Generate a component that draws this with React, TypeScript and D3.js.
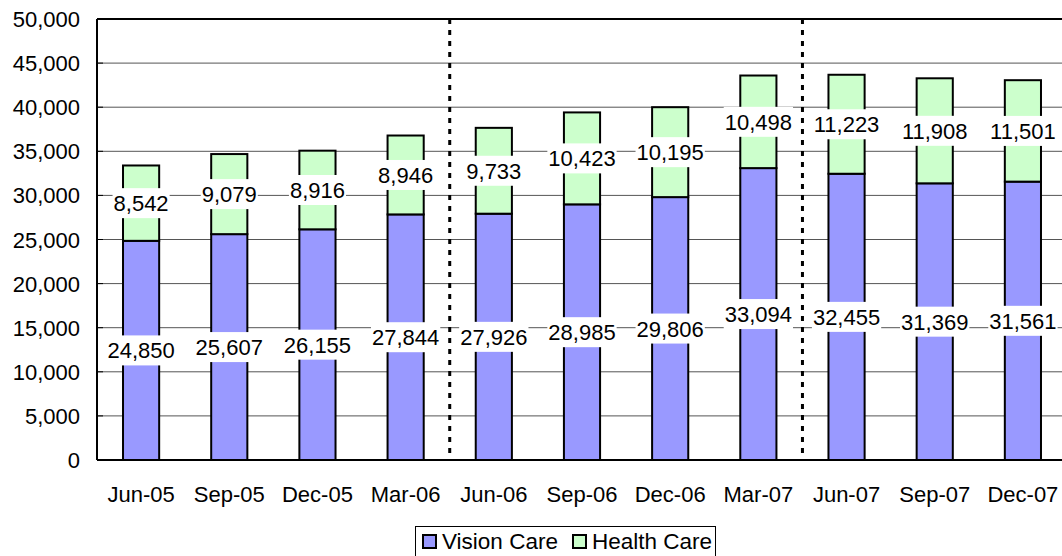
import React, { useEffect, useRef } from "react";
import * as d3 from "d3";

const categories = ["Jun-05", "Sep-05", "Dec-05", "Mar-06", "Jun-06", "Sep-06", "Dec-06", "Mar-07", "Jun-07", "Sep-07", "Dec-07"];
const visionCare = [24850, 25607, 26155, 27844, 27926, 28985, 29806, 33094, 32455, 31369, 31561];
const healthCare = [8542, 9079, 8916, 8946, 9733, 10423, 10195, 10498, 11223, 11908, 11501];
const yTicks = [0, 5000, 10000, 15000, 20000, 25000, 30000, 35000, 40000, 45000, 50000];
const dividerAfter = ["Mar-06", "Mar-07"];
const seriesNames = ["Vision Care", "Health Care"];
const seriesColors = ["#9999FF", "#CCFFCC"];

const W = 1062, H = 556;
const L = 97, T = 19, B = 460, R = 1067;
const FONT = "Arial, 'Liberation Sans', sans-serif";

export default function App() {
  const ref = useRef<SVGSVGElement>(null);
  useEffect(() => {
    const svg = d3.select(ref.current);
    svg.selectAll("*").remove();
    const x = d3.scaleBand<string>().domain(categories).range([L, R]).paddingInner(0.59).paddingOuter(0.295);
    const y = d3.scaleLinear().domain([0, 50000]).range([B, T]);

    svg.append("rect").attr("width", W).attr("height", H).attr("fill", "#fff");

    // gridlines
    svg.append("g").selectAll("line").data(yTicks.filter(t => t > 0 && t < 50000)).join("line")
      .attr("x1", L).attr("x2", R).attr("y1", d => y(d)).attr("y2", d => y(d))
      .attr("stroke", "#555").attr("stroke-width", 1);

    // top border
    svg.append("line").attr("x1", L).attr("x2", R).attr("y1", T).attr("y2", T).attr("stroke", "#000").attr("stroke-width", 2);

    // y tick marks (inward)
    svg.append("g").selectAll("line").data(yTicks).join("line")
      .attr("x1", L).attr("x2", L + 6).attr("y1", d => y(d)).attr("y2", d => y(d)).attr("stroke", "#000").attr("stroke-width", 1);

    const fmt = d3.format(",");
    svg.append("g").selectAll("text").data(yTicks).join("text")
      .attr("x", 80).attr("y", d => y(d) + 8).attr("text-anchor", "end")
      .attr("font-family", FONT).attr("font-size", 22).attr("fill", "#000")
      .text(d => fmt(d));

    // bars
    const bw = x.bandwidth();
    const g = svg.append("g");
    categories.forEach((c, i) => {
      const v = visionCare[i], h = healthCare[i];
      g.append("rect").attr("x", x(c)!).attr("y", y(v)).attr("width", bw).attr("height", y(0) - y(v))
        .attr("fill", seriesColors[0]).attr("stroke", "#000").attr("stroke-width", 2);
      g.append("rect").attr("x", x(c)!).attr("y", y(v + h)).attr("width", bw).attr("height", y(v) - y(v + h))
        .attr("fill", seriesColors[1]).attr("stroke", "#000").attr("stroke-width", 2);
    });

    // axes lines
    svg.append("line").attr("x1", L).attr("x2", L).attr("y1", T).attr("y2", B).attr("stroke", "#000").attr("stroke-width", 2);
    svg.append("line").attr("x1", L).attr("x2", R).attr("y1", B).attr("y2", B).attr("stroke", "#000").attr("stroke-width", 2);

    // x labels
    svg.append("g").selectAll("text").data(categories).join("text")
      .attr("x", d => x(d)! + bw / 2).attr("y", 502).attr("text-anchor", "middle")
      .attr("font-family", FONT).attr("font-size", 22).attr("fill", "#000").text(d => d);

    // data labels
    const labels: { cx: number; cy: number; t: string }[] = [];
    categories.forEach((c, i) => {
      const v = visionCare[i], h = healthCare[i];
      labels.push({ cx: x(c)! + bw / 2, cy: y(v / 2), t: fmt(v) });
      labels.push({ cx: x(c)! + bw / 2, cy: y(v + h / 2), t: fmt(h) });
    });
    const lg = svg.append("g");
    labels.forEach(l => {
      const rect = lg.append("rect").attr("fill", "#fff");
      const txt = lg.append("text").attr("x", l.cx).attr("y", l.cy + 8).attr("text-anchor", "middle")
        .attr("font-family", FONT).attr("font-size", 22).attr("fill", "#000").text(l.t);
      const bb = (txt.node() as SVGTextElement).getBBox();
      rect.attr("x", bb.x - 1).attr("y", l.cy - 15).attr("width", bb.width + 2).attr("height", 30);
    });

    // divider lines
    dividerAfter.forEach(c => {
      const xx = x(c)! + bw + (x.step() - bw) / 2;
      svg.append("line").attr("x1", xx).attr("x2", xx).attr("y1", T).attr("y2", B)
        .attr("stroke", "#000").attr("stroke-width", 3).attr("stroke-dasharray", "5,6");
    });

    // legend
    const leg = svg.append("g");
    leg.append("rect").attr("x", 415.5).attr("y", 526.5).attr("width", 300).attr("height", 40)
      .attr("fill", "#fff").attr("stroke", "#000").attr("stroke-width", 1);
    const items = [{ x: 422, tx: 442 }, { x: 572, tx: 592 }];
    seriesNames.forEach((n, i) => {
      leg.append("rect").attr("x", items[i].x + 1).attr("y", 535).attr("width", 13).attr("height", 13)
        .attr("fill", seriesColors[i]).attr("stroke", "#000").attr("stroke-width", 2);
      leg.append("text").attr("x", items[i].tx).attr("y", 549).attr("font-family", FONT).attr("font-size", 22.5)
        .attr("fill", "#000").text(n);
    });
  }, []);
  return (
    <svg ref={ref} width={W} height={H} style={{ position: "absolute", left: 0, top: 0, display: "block" }} />
  );
}
